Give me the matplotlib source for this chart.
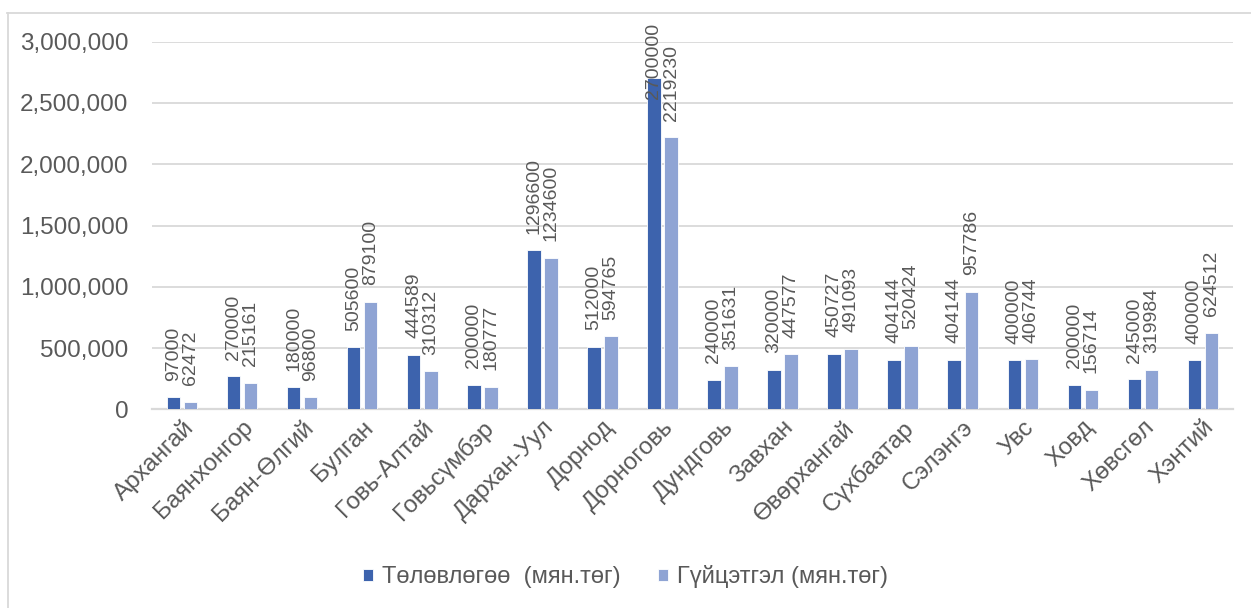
import matplotlib
matplotlib.use("Agg")
import matplotlib.pyplot as plt
from matplotlib import font_manager
from matplotlib.lines import Line2D
from matplotlib.ticker import FuncFormatter
import numpy as np

# Use the regular (non-narrow) Liberation Sans face
regular = [f for f in font_manager.findSystemFonts()
           if f.endswith("LiberationSans-Regular.ttf")]
if regular:
    font_manager.fontManager.addfont(regular[0])
    base_name = font_manager.FontProperties(fname=regular[0]).get_name()
else:
    base_name = "DejaVu Sans"
plt.rcParams['font.family'] = [base_name, 'DejaVu Sans']

provinces = ["Архангай", "Баянхонгор", "Баян-Өлгий", "Булган", "Говь-Алтай",
             "Говьсүмбэр", "Дархан-Уул", "Дорнод", "Дорноговь", "Дундговь",
             "Завхан", "Өвөрхангай", "Сүхбаатар", "Сэлэнгэ", "Увс", "Ховд",
             "Хөвсгөл", "Хэнтий"]
plan = [97000, 270000, 180000, 505600, 444589, 200000, 1296600, 512000,
        2700000, 240000, 320000, 450727, 404144, 404144, 400000, 200000,
        245000, 400000]
actual = [62472, 215161, 96800, 879100, 310312, 180777, 1234600, 594765,
          2219230, 351631, 447577, 491093, 520424, 957786, 406744, 156714,
          319984, 624512]
series_names = ["Төлөвлөгөө  (мян.төг)", "Гүйцэтгэл (мян.төг)"]
y_ticks = [0, 500000, 1000000, 1500000, 2000000, 2500000, 3000000]

dark_blue = "#3d63ad"
light_blue = "#8fa4d4"
text_gray = "#595959"
grid_gray = "#d9d9d9"

W, H = 1251, 608
fig = plt.figure(figsize=(W / 100, H / 100), dpi=100)
ax = fig.add_axes([152 / W, 1 - 409.3 / H, (1233 - 152) / W, (409.3 - 41.7) / H])

x = np.arange(len(provinces))
bw = 0.225
off = 0.142
b1 = ax.bar(x - off, plan, bw, color=dark_blue, edgecolor="white", linewidth=0.6,
            label=series_names[0], zorder=3)
b2 = ax.bar(x + off, actual, bw, color=light_blue, edgecolor="white", linewidth=0.6,
            label=series_names[1], zorder=3)

ax.set_xlim(-0.5, len(provinces) - 0.5)
ax.set_ylim(0, 3000000)
ax.set_yticks(y_ticks)
ax.yaxis.set_major_formatter(FuncFormatter(lambda v, p: f"{int(v):,}"))
ax.grid(axis="y", color=grid_gray, linewidth=1.3, zorder=0)
for s in ["top", "right", "left"]:
    ax.spines[s].set_visible(False)
ax.spines["bottom"].set_color(grid_gray)
ax.spines["bottom"].set_linewidth(1.6)
ax.tick_params(axis="y", length=0, pad=17, labelsize=17.5, labelcolor=text_gray)
ax.tick_params(axis="x", length=0, pad=5, labelsize=17.5, labelcolor=text_gray)
ax.set_xticks(x)
ax.set_xticklabels(provinces, rotation=45, ha="right", va="top",
                   rotation_mode="anchor")

# Value labels above each bar, rotated vertically
labels = []
for bars, vals in ((b1, plan), (b2, actual)):
    for rect, v in zip(bars, vals):
        t = ax.annotate(str(v), xy=(rect.get_x() + rect.get_width() / 2, v),
                        xytext=(0, 12), textcoords="offset points",
                        rotation=90, ha="center", va="bottom",
                        fontsize=14, color=text_gray, zorder=4,
                        annotation_clip=False)
        labels.append(t)

# Legend at the bottom centre
ax.legend(loc="center", bbox_to_anchor=(0.5, 1 - 577 / H),
          bbox_transform=fig.transFigure, ncol=2, frameon=False,
          fontsize=17, handlelength=0.4, handleheight=0.4, handletextpad=0.38,
          columnspacing=1.6, labelcolor=text_gray)

# Keep value labels inside the chart frame
fig.canvas.draw()
renderer = fig.canvas.get_renderer()
top_limit = H - 23
for t in labels:
    bb = t.get_window_extent(renderer)
    if bb.y1 > top_limit:
        shift_pts = (bb.y1 - top_limit) * 72 / fig.dpi
        t.xyann = (0, 12 - shift_pts)

# Chart frame edges
fig.add_artist(Line2D([7 / W, 1], [1 - 13 / H, 1 - 13 / H], color=grid_gray,
                      linewidth=1.3, transform=fig.transFigure))
fig.add_artist(Line2D([7.5 / W, 7.5 / W], [0, 1 - 13 / H], color=grid_gray,
                      linewidth=1.3, transform=fig.transFigure))

fig.savefig("out.png", dpi=100, facecolor="white")
